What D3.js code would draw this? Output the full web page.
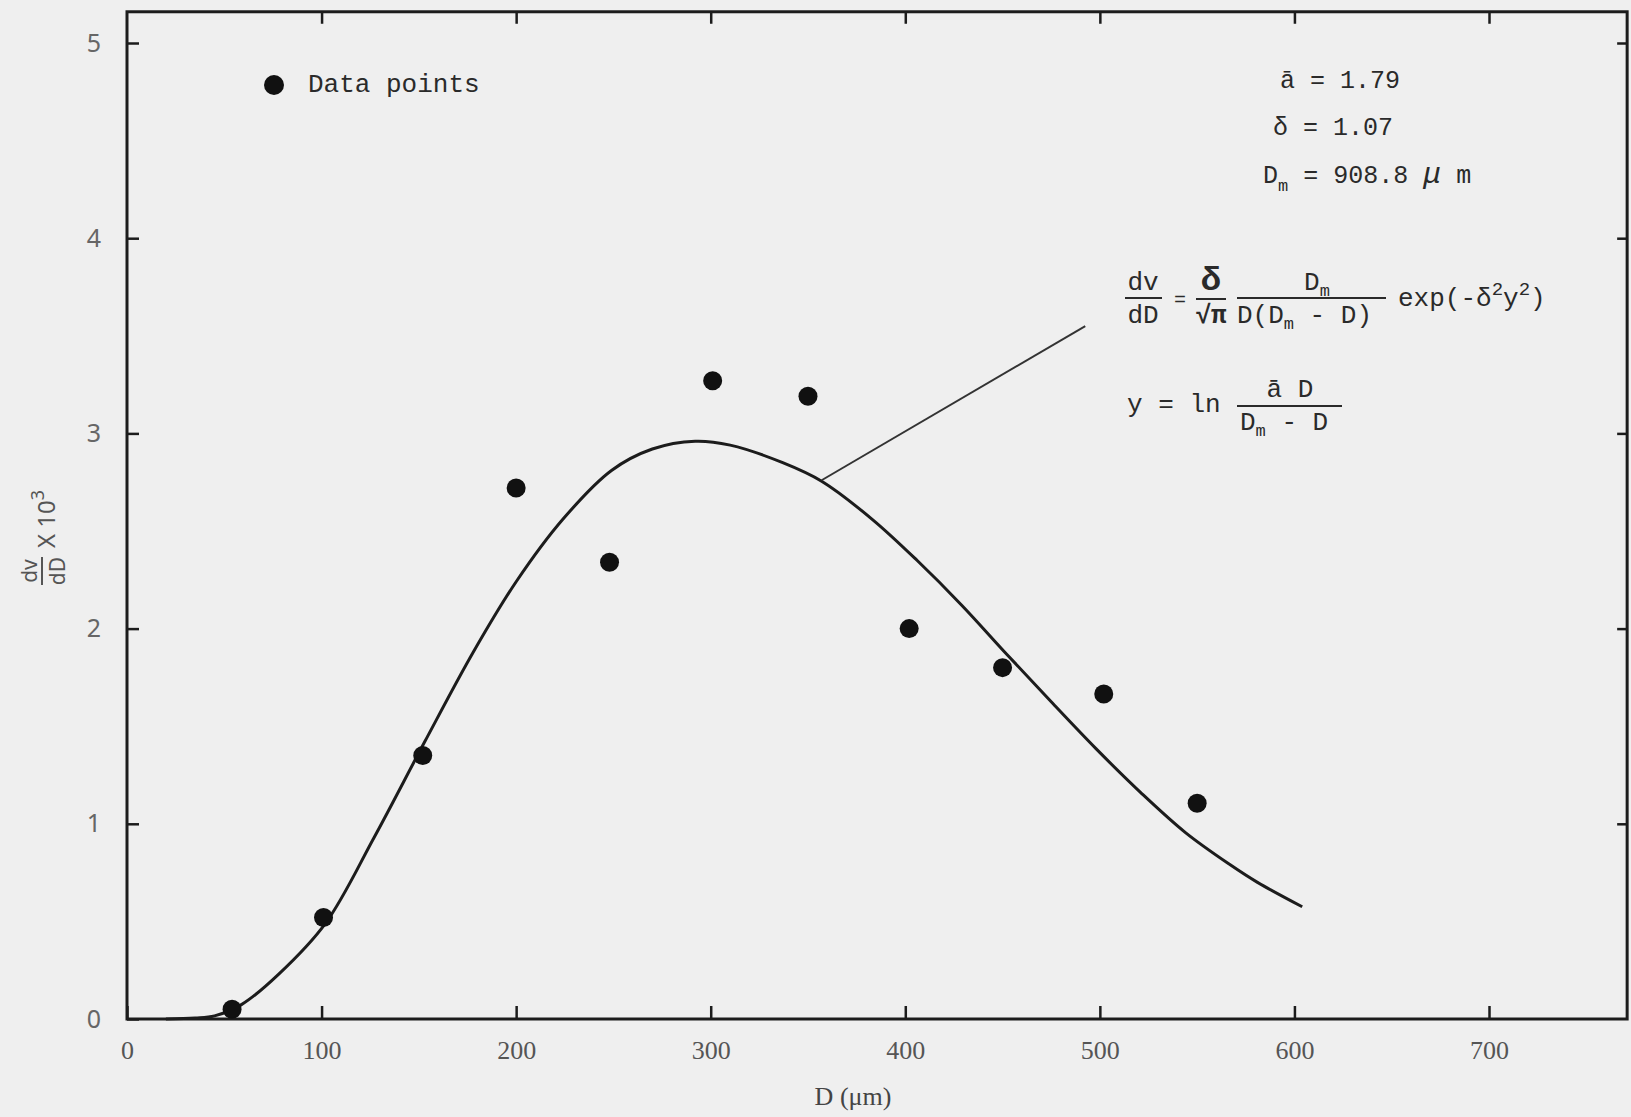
<html>
<head>
<meta charset="utf-8">
<script src="https://cdn.jsdelivr.net/npm/d3@7"></script>
<style>
  body { margin: 0; background: #efefef; }
  text { white-space: pre; }
</style>
</head>
<body>
<svg id="chart" width="1631" height="1117"></svg>
<script>
// measured points (D in um, dv/dD x 10^3)
var pointD = [54, 101, 152, 200, 248, 301, 350, 402, 450, 502, 550];
var pointV = [0.05, 0.52, 1.35, 2.72, 2.34, 3.27, 3.19, 2.00, 1.80, 1.665, 1.105];

// fitted curve
var curveD = [20, 35, 45, 59, 78, 102, 127, 153, 178, 200, 224, 249, 270, 292, 310, 337, 357, 383, 406, 429, 452, 475, 498, 521, 544, 567, 581, 604];
var curveV = [0, 0.005, 0.016, 0.075, 0.23, 0.49, 0.93, 1.42, 1.88, 2.24, 2.56, 2.81, 2.92, 2.96, 2.94, 2.85, 2.755, 2.56, 2.35, 2.12, 1.87, 1.625, 1.385, 1.16, 0.955, 0.79, 0.70, 0.575];

// pointer from curve to formula
var leaderD = [357, 492.5];
var leaderV = [2.76, 3.55];

var xTicks = [0, 100, 200, 300, 400, 500, 600, 700];
var yTicks = [0, 1, 2, 3, 4, 5];
var xMax = 771, yMax = 5.16;

var svg = d3.select('#chart');
var x = d3.scaleLinear().domain([0, 700]).range([127, 1489]);
var y = d3.scaleLinear().domain([0, 5]).range([1019, 43]);

var ink = '#1c1c1c';

// frame
svg.append('rect')
	.attr('x', x(0)).attr('y', y(yMax))
	.attr('width', x(xMax) - x(0)).attr('height', y(0) - y(yMax))
	.style('fill', 'none').style('stroke', ink).style('stroke-width', 3);

function styleAxis(g) {
	g.select('.domain').remove();
	g.selectAll('.tick line').style('stroke', ink).style('stroke-width', 2.5);
}

svg.append('g')
	.attr('transform', 'translate(0,' + y(0) + ')')
	.call(d3.axisBottom(x).tickValues(xTicks).tickSize(-13).tickPadding(22))
	.call(styleAxis)
	.selectAll('text')
	.style('font-family', 'Liberation Serif').style('font-size', '26px').style('fill', '#555');

svg.append('g')
	.attr('transform', 'translate(' + x(0) + ',0)')
	.call(d3.axisLeft(y).tickValues(yTicks).tickSize(-12).tickPadding(26).tickFormat(d3.format('d')))
	.call(styleAxis)
	.selectAll('text')
	.style('font-family', 'Noto Sans').style('font-size', '25px').style('fill', '#666');

svg.append('g')
	.attr('transform', 'translate(0,' + y(yMax) + ')')
	.call(d3.axisTop(x).tickValues(xTicks.slice(1)).tickSize(-12).tickFormat(''))
	.call(styleAxis);

svg.append('g')
	.attr('transform', 'translate(' + x(xMax) + ',0)')
	.call(d3.axisRight(y).tickValues(yTicks.slice(1)).tickSize(-10).tickFormat(''))
	.call(styleAxis);

// curve
var line = d3.line()
	.x(function(d) { return x(d[0]); })
	.y(function(d) { return y(d[1]); })
	.curve(d3.curveCatmullRom.alpha(0.5));

svg.append('path')
	.datum(d3.zip(curveD, curveV))
	.attr('d', line)
	.style('fill', 'none').style('stroke', ink).style('stroke-width', 3);

svg.append('path')
	.datum(d3.zip(leaderD, leaderV))
	.attr('d', d3.line().x(function(d) { return x(d[0]); }).y(function(d) { return y(d[1]); }))
	.style('fill', 'none').style('stroke', '#333').style('stroke-width', 2);

// data points
svg.selectAll('circle.pt').data(d3.zip(pointD, pointV))
	.enter().append('circle')
	.attr('class', 'pt')
	.attr('cx', function(d) { return x(d[0]); })
	.attr('cy', function(d) { return y(d[1]); })
	.attr('r', 9.5)
	.style('fill', '#111');

// legend
svg.append('circle').attr('cx', 274).attr('cy', 85).attr('r', 10).style('fill', '#111');
var mono = 'Liberation Mono';
function txt(xp, yp, s, size, anchor) {
	return svg.append('text').attr('x', xp).attr('y', yp)
		.style('font-family', mono).style('font-size', (size || 25) + 'px')
		.style('fill', '#2a2a2a').attr('text-anchor', anchor || 'start').text(s);
}
txt(308, 92, 'Data points', 26);

// parameters
txt(1280, 88, '\u0101 = 1.79');
txt(1273, 135, '\u03b4 = 1.07');
var dm = txt(1263, 183, 'D', 25);
dm.append('tspan').attr('dy', 8).style('font-size', '17px').text('m');
dm.append('tspan').attr('dy', -8).text(' = 908.8 ');
dm.append('tspan').style('font-size', '30px').style('font-style', 'italic').text('\u03bc');
dm.append('tspan').text(' m');

// formula
function bar(x1, x2, yp) {
	svg.append('line').attr('x1', x1).attr('x2', x2).attr('y1', yp).attr('y2', yp)
		.style('stroke', '#2a2a2a').style('stroke-width', 2);
}
txt(1143, 290, 'dv', 26, 'middle');
bar(1125, 1162, 298);
txt(1143, 323, 'dD', 26, 'middle');
txt(1180, 306, '=', 20, 'middle');
txt(1211, 290, '\u03b4', 34, 'middle').style('font-weight', 'bold');
bar(1196, 1226, 299);
txt(1211, 323, '\u221a\u03c0', 26, 'middle').style('font-weight', 'bold');
var num = txt(1317, 290, 'D', 26, 'middle');
num.append('tspan').attr('dy', 6).style('font-size', '17px').text('m');
bar(1237, 1386, 298);
var den = txt(1237, 323, 'D(D', 26);
den.append('tspan').attr('dy', 6).style('font-size', '17px').text('m');
den.append('tspan').attr('dy', -6).text(' - D)');
var ex = txt(1398, 306, 'exp(-\u03b4', 26);
ex.append('tspan').attr('dy', -11).style('font-size', '19px').text('2');
ex.append('tspan').attr('dy', 11).text('y');
ex.append('tspan').attr('dy', -11).style('font-size', '19px').text('2');
ex.append('tspan').attr('dy', 11).text(')');

txt(1127, 412, 'y = ln', 26);
txt(1290, 397, '\u0101 D', 26, 'middle');
bar(1237, 1342, 406);
var den2 = txt(1240, 430, 'D', 26);
den2.append('tspan').attr('dy', 6).style('font-size', '17px').text('m');
den2.append('tspan').attr('dy', -6).text(' - D');

// axis titles
svg.append('text').attr('x', 853).attr('y', 1105).attr('text-anchor', 'middle')
	.style('font-family', 'Liberation Serif').style('font-size', '26px').style('fill', '#444')
	.text('D (\u03bcm)');

var yl = svg.append('g').attr('transform', 'translate(45,530) rotate(-90)')
	.style('font-family', 'Noto Sans').style('fill', '#555');
yl.append('text').attr('x', -41).attr('y', -8).attr('text-anchor', 'middle').style('font-size', '21px').text('dv');
yl.append('line').attr('x1', -55).attr('x2', -27).attr('y1', -3).attr('y2', -3).style('stroke', '#555').style('stroke-width', 2);
yl.append('text').attr('x', -41).attr('y', 20).attr('text-anchor', 'middle').style('font-size', '21px').text('dD');
var xl = yl.append('text').attr('x', -18).attr('y', 10).style('font-size', '24px').text('X 10');
xl.append('tspan').attr('dy', -11).style('font-size', '18px').text('3');
</script>
</body>
</html>
